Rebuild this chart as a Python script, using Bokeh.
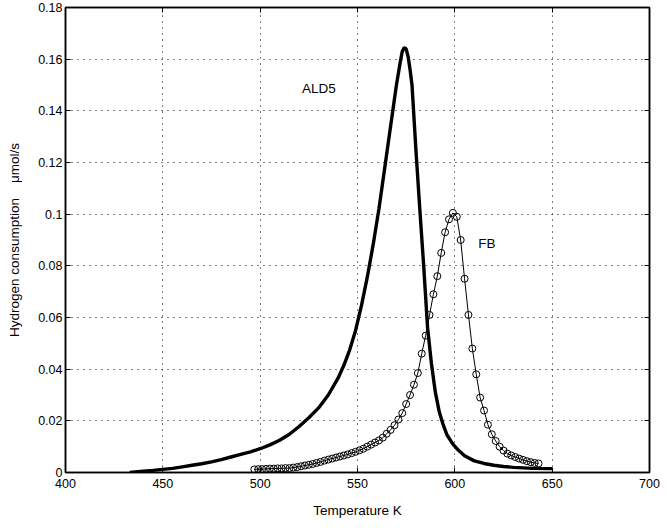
from bokeh.plotting import figure
from bokeh.models import LinearAxis, FixedTicker, Range1d, CustomJSTickFormatter, Label
from bokeh.embed import file_html
from bokeh.resources import INLINE

# ALD5 (thick line)
ald5_T = [433, 440, 445, 450, 455, 460, 465, 470, 475, 480, 485, 490, 495, 500, 505, 510,
          515, 520, 525, 530, 535, 540, 543, 546, 549, 552, 555, 558, 561, 564, 567, 570,
          572, 573, 574, 575, 576, 577, 578, 580, 582, 584, 586, 588, 590, 592, 594, 596,
          599, 602, 605, 610, 615, 620, 625, 630, 640, 650]
ald5_v = [0.0, 0.0005, 0.0008, 0.0012, 0.0016, 0.0022, 0.0028, 0.0034, 0.0041, 0.0050,
          0.0060, 0.0070, 0.0080, 0.0092, 0.0107, 0.0125, 0.0148, 0.0178, 0.0212, 0.0250,
          0.0300, 0.0365, 0.0415, 0.0475, 0.0550, 0.0645, 0.0755, 0.0880, 0.1020, 0.1180,
          0.1340, 0.1500, 0.1590, 0.1630, 0.1645, 0.1640, 0.1610, 0.1560, 0.1500, 0.1250,
          0.1020, 0.0800, 0.0560, 0.0420, 0.0310, 0.0235, 0.0185, 0.0145, 0.0110, 0.0085,
          0.0065, 0.0045, 0.0035, 0.0028, 0.0023, 0.0020, 0.0016, 0.0015]

# FB (thin line with circles)
fb_T = [497, 499, 501, 503, 505, 507, 509, 511, 513, 515, 517, 519, 521, 523, 525, 527,
        529, 531, 533, 535, 537, 539, 541, 543, 545, 547, 549, 551, 553, 555, 557, 559,
        561, 563, 565, 567, 569, 571, 573, 575, 577, 579, 581, 583, 585, 587, 589, 591,
        593, 595, 597, 599, 601, 603, 605, 607, 609, 611, 613, 615, 617, 619, 621, 623,
        625, 627, 629, 631, 633, 635, 637, 639, 641, 643]
fb_v = [0.0012, 0.0013, 0.0013, 0.0014, 0.0015, 0.0015, 0.0016, 0.0016, 0.0017, 0.0017,
        0.0019, 0.0021, 0.0024, 0.0027, 0.0030, 0.0033, 0.0037, 0.0041, 0.0046, 0.0050,
        0.0054, 0.0058, 0.0062, 0.0066, 0.0070, 0.0075, 0.0080, 0.0086, 0.0092, 0.0100,
        0.0108, 0.0116, 0.0124, 0.0135, 0.0150, 0.0165, 0.0183, 0.0205, 0.0230, 0.0265,
        0.0300, 0.0340, 0.0385, 0.0460, 0.0530, 0.0610, 0.0690, 0.0760, 0.0850, 0.0930,
        0.0980, 0.1005, 0.0990, 0.0900, 0.0750, 0.0610, 0.0480, 0.0380, 0.0290, 0.0240,
        0.0185, 0.0148, 0.0122, 0.0100, 0.0085, 0.0073, 0.0066, 0.0060, 0.0054, 0.0049,
        0.0044, 0.0040, 0.0037, 0.0035]

x_ticks = [400, 450, 500, 550, 600, 650, 700]
y_ticks = [0, 0.02, 0.04, 0.06, 0.08, 0.1, 0.12, 0.14, 0.16, 0.18]
y_tick_labels = {0: "0", 0.02: "0.02", 0.04: "0.04", 0.06: "0.06", 0.08: "0.08",
                 0.1: "0.1", 0.12: "0.12", 0.14: "0.14", 0.16: "0.16", 0.18: "0.18"}

FONT = "Liberation Sans"

p = figure(width=660, height=520, output_backend="svg", toolbar_location=None,
           x_range=Range1d(400, 700), y_range=Range1d(0, 0.18),
           min_border_left=65, min_border_top=7, min_border_right=11, min_border_bottom=47)
p.background_fill_color = "white"
p.border_fill_color = "white"
p.outline_line_color = "black"
p.outline_line_width = 1.5

p.xaxis.ticker = FixedTicker(ticks=x_ticks)
p.yaxis.ticker = FixedTicker(ticks=y_ticks)
p.yaxis.major_label_overrides = y_tick_labels
for ax in (p.xaxis, p.yaxis):
    ax.minor_tick_line_color = None
    ax.major_tick_in = 5
    ax.major_tick_out = 0
    ax.axis_line_color = "black"
    ax.axis_line_width = 1.5
    ax.major_tick_line_color = "black"
    ax.major_label_text_font = FONT
    ax.major_label_text_font_size = "12.5px"
    ax.major_label_text_color = "black"
    ax.axis_label_text_font = FONT
    ax.axis_label_text_font_size = "13.5px"
    ax.axis_label_text_font_style = "normal"
    ax.axis_label_text_color = "black"
p.xaxis.major_label_standoff = 6
p.yaxis.major_label_standoff = 3
p.xaxis.axis_label = "Temperature K"
p.yaxis.axis_label = "Hydrogen consumption\u00a0\u00a0\u00a0\u00a0\u03bcmol/s"
p.xaxis.axis_label_standoff = 12
p.yaxis.axis_label_standoff = 13

blank = CustomJSTickFormatter(code="return ''")
right = LinearAxis(ticker=FixedTicker(ticks=y_ticks), formatter=blank)
top = LinearAxis(ticker=FixedTicker(ticks=x_ticks), formatter=blank)
for ax in (right, top):
    ax.minor_tick_line_color = None
    ax.major_tick_in = 5
    ax.major_tick_out = 0
    ax.axis_line_color = "black"
    ax.axis_line_width = 1.5
    ax.major_label_text_font_size = "0px"
    ax.major_label_standoff = 0
p.add_layout(right, "right")
p.add_layout(top, "above")

for g in (p.xgrid, p.ygrid):
    g.grid_line_color = "black"
    g.grid_line_dash = "1 5"
    g.grid_line_width = 1

p.line(ald5_T, ald5_v, line_color="black", line_width=3.4)
p.line(fb_T, fb_v, line_color="black", line_width=1)
p.scatter(fb_T, fb_v, marker="circle", size=7, fill_color=None, line_color="black", line_width=1)

p.add_layout(Label(x=521.5, y=0.1486, text="ALD5", text_font=FONT, text_font_size="13.5px",
                   text_color="black", text_baseline="middle", text_align="left"))
p.add_layout(Label(x=612, y=0.0886, text="FB", text_font=FONT, text_font_size="13.5px",
                   text_color="black", text_baseline="middle", text_align="left"))

open("out.html", "w").write(file_html(p, INLINE))
